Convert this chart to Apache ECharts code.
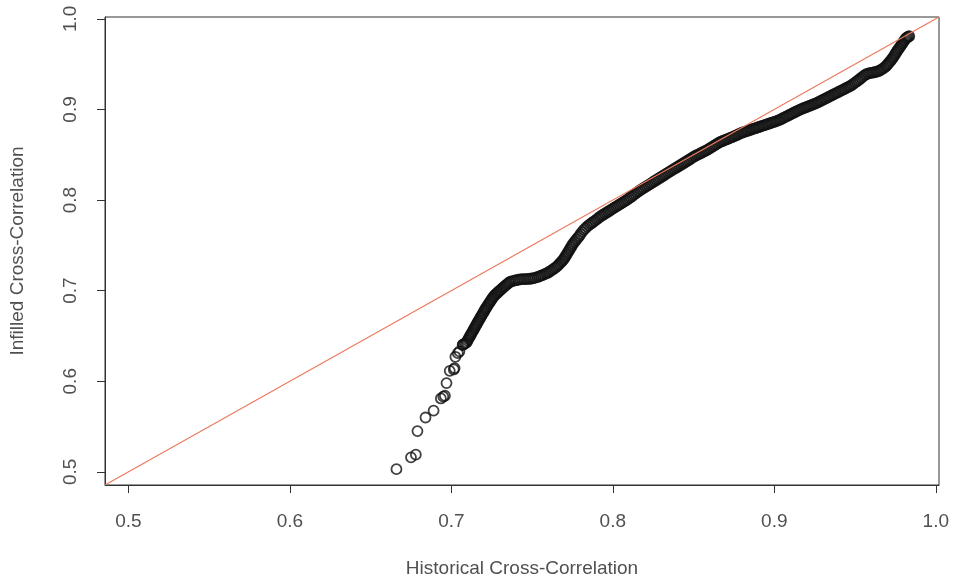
<!DOCTYPE html>
<html>
<head>
<meta charset="utf-8">
<script src="https://cdn.jsdelivr.net/npm/echarts@6/dist/echarts.min.js"></script>
<style>
  html, body { margin: 0; padding: 0; background: #ffffff; }
  #chart { width: 955px; height: 583px; }
</style>
</head>
<body>
<div id="chart"></div>
<script>
// Axis extent shared by both axes (plot drawn on equal scales)
const axisMin = 0.4855;
const axisMax = 1.002;
const tickValues = [0.5, 0.6, 0.7, 0.8, 0.9, 1.0];

// Sorted quantiles: historical (x) against infilled (y) cross-correlation
const historical = [
  // lower tail
  0.666, 0.675, 0.678, 0.679, 0.684, 0.689, 0.6935, 0.695, 0.696, 0.697,
  0.699, 0.7015, 0.702, 0.7025, 0.704, 0.705, 0.707,
  // steep rise
  0.7072, 0.7080, 0.7088, 0.7095, 0.7100, 0.7105, 0.7110, 0.7115, 0.7120, 0.7125,
  0.7130, 0.7136, 0.7141, 0.7146, 0.7151, 0.7156, 0.7161, 0.7166, 0.7171, 0.7177,
  0.7182, 0.7187, 0.7193, 0.7198, 0.7203, 0.7208, 0.7214, 0.7219, 0.7225, 0.7231,
  0.7237, 0.7243, 0.7249, 0.7255, 0.7260, 0.7266, 0.7273, 0.7280, 0.7287, 0.7294,
  0.7302, 0.7310, 0.7318, 0.7326, 0.7334, 0.7342, 0.7350, 0.7358, 0.7366,
  // shoulder
  0.7378, 0.7390, 0.7402, 0.7414, 0.7426, 0.7438, 0.7450, 0.7462, 0.7474, 0.7486,
  0.7498, 0.7510, 0.7522,
  0.7535, 0.7545, 0.7555, 0.7565, 0.7575, 0.7585, 0.7595, 0.7605, 0.7615, 0.7625,
  0.7635, 0.7645, 0.7654, 0.7662, 0.7670, 0.7678, 0.7686, 0.7693, 0.7699, 0.7705,
  0.7711, 0.7717, 0.7723, 0.7729, 0.7735, 0.7741, 0.7747, 0.7753, 0.7761, 0.7769,
  0.7777, 0.7785, 0.7793,
  // central body
  0.780, 0.781, 0.782, 0.783, 0.784, 0.785, 0.786, 0.787, 0.788, 0.789,
  0.790, 0.791, 0.792, 0.793, 0.794, 0.795, 0.796, 0.797, 0.798, 0.799,
  0.800, 0.801, 0.802, 0.803, 0.804, 0.805, 0.806, 0.807, 0.808, 0.809,
  0.810, 0.811, 0.812, 0.813, 0.814, 0.815, 0.816, 0.817, 0.818, 0.819,
  0.820, 0.821, 0.822, 0.823, 0.824, 0.825, 0.826, 0.827, 0.828, 0.829,
  0.830, 0.831, 0.832, 0.833, 0.834, 0.835, 0.836, 0.837, 0.838, 0.839,
  0.840, 0.841, 0.842, 0.843, 0.844, 0.845, 0.846, 0.847, 0.848, 0.849,
  0.850, 0.851, 0.852, 0.853, 0.854, 0.855, 0.856, 0.857, 0.858, 0.859,
  0.860, 0.861, 0.862, 0.863, 0.864, 0.865, 0.866,
  0.867, 0.868, 0.869, 0.870, 0.871, 0.872, 0.873, 0.874, 0.875, 0.876,
  0.877, 0.878, 0.879, 0.880, 0.881, 0.882, 0.883, 0.884, 0.885, 0.886,
  0.887, 0.888, 0.889, 0.890, 0.891, 0.892, 0.893, 0.894, 0.895, 0.896,
  0.897, 0.898, 0.899, 0.900, 0.901, 0.902, 0.903, 0.904, 0.905, 0.906,
  0.907, 0.908, 0.909, 0.910, 0.911, 0.912, 0.913, 0.914, 0.915, 0.916,
  0.917, 0.918, 0.919, 0.920, 0.921, 0.922, 0.923, 0.924, 0.925, 0.926,
  0.927, 0.928, 0.929, 0.930, 0.931, 0.932, 0.933, 0.934, 0.935, 0.936,
  0.937, 0.938, 0.939, 0.940, 0.941, 0.942, 0.943, 0.944, 0.945, 0.946,
  0.947, 0.948, 0.949, 0.950, 0.951, 0.952, 0.953, 0.954, 0.955, 0.956,
  // upper tail
  0.957, 0.958, 0.959, 0.960, 0.961, 0.962, 0.963, 0.964, 0.965, 0.966,
  0.967, 0.968, 0.969, 0.9697, 0.9704, 0.9711, 0.9718, 0.9725, 0.9732, 0.9738,
  0.9744, 0.9750, 0.9756, 0.9762, 0.9768, 0.9775, 0.9781, 0.9787, 0.9793, 0.9799,
  0.9805, 0.9811, 0.9817, 0.9823, 0.9830, 0.9836
];
const infilled = [
  // lower tail
  0.503, 0.516, 0.519, 0.545, 0.560, 0.5675, 0.581, 0.583, 0.584, 0.598,
  0.6115, 0.613, 0.6145, 0.627, 0.631, 0.633, 0.640,
  // steep rise
  0.6405, 0.6412, 0.6420, 0.6430, 0.6448, 0.6465, 0.6481, 0.6497, 0.6513, 0.6529,
  0.6545, 0.6563, 0.6579, 0.6595, 0.6611, 0.6627, 0.6643, 0.6659, 0.6675, 0.6693,
  0.6709, 0.6725, 0.6741, 0.6757, 0.6773, 0.6789, 0.6806, 0.6821, 0.6838, 0.6854,
  0.6870, 0.6886, 0.6902, 0.6918, 0.6932, 0.6944, 0.6956, 0.6968, 0.6980, 0.6992,
  0.7004, 0.7016, 0.7030, 0.7042, 0.7054, 0.7066, 0.7078, 0.7090, 0.7099,
  // shoulder
  0.7106, 0.7111, 0.7116, 0.7120, 0.7124, 0.7126, 0.7127, 0.7128, 0.7129, 0.7131,
  0.7134, 0.7138, 0.7143,
  0.7151, 0.7158, 0.7165, 0.7172, 0.7180, 0.7187, 0.7195, 0.7206, 0.7218, 0.7230,
  0.7242, 0.7254, 0.7267, 0.7282, 0.7297, 0.7312, 0.7327, 0.7340, 0.7357, 0.7374,
  0.7391, 0.7408, 0.7426, 0.7444, 0.7462, 0.7480, 0.7498, 0.7516, 0.7534, 0.7552,
  0.7570, 0.7588, 0.7605,
  // central body
  0.7625, 0.7648, 0.7670, 0.7688, 0.7706, 0.7720, 0.7734, 0.7747, 0.7760, 0.7773,
  0.7787, 0.7801, 0.7815, 0.7827, 0.7838, 0.7849, 0.7860, 0.7871, 0.7882, 0.7894,
  0.7905, 0.7916, 0.7927, 0.7938, 0.7949, 0.7960, 0.7971, 0.7982, 0.7993, 0.8005,
  0.8018, 0.8031, 0.8044, 0.8058, 0.8071, 0.8084, 0.8097, 0.8110, 0.8121, 0.8132,
  0.8143, 0.8154, 0.8165, 0.8176, 0.8187, 0.8199, 0.8210, 0.8221, 0.8232, 0.8243,
  0.8254, 0.8265, 0.8276, 0.8288, 0.8299, 0.8310, 0.8321, 0.8332, 0.8343, 0.8354,
  0.8365, 0.8376, 0.8387, 0.8398, 0.8409, 0.8420, 0.8431, 0.8442, 0.8453, 0.8465,
  0.8476, 0.8486, 0.8495, 0.8504, 0.8513, 0.8522, 0.8531, 0.8540, 0.8549, 0.8559,
  0.8570, 0.8581, 0.8592, 0.8603, 0.8614, 0.8625, 0.8636,
  0.8645, 0.8652, 0.8659, 0.8666, 0.8673, 0.8680, 0.8688, 0.8695, 0.8703, 0.8710,
  0.8718, 0.8727, 0.8736, 0.8743, 0.8749, 0.8755, 0.8761, 0.8767, 0.8773, 0.8779,
  0.8785, 0.8791, 0.8797, 0.8803, 0.8809, 0.8815, 0.8821, 0.8827, 0.8833, 0.8839,
  0.8845, 0.8851, 0.8857, 0.8863, 0.8869, 0.8876, 0.8882, 0.8891, 0.8900, 0.8909,
  0.8918, 0.8927, 0.8936, 0.8945, 0.8954, 0.8963, 0.8972, 0.8981, 0.8990, 0.8998,
  0.9006, 0.9013, 0.9020, 0.9027, 0.9034, 0.9041, 0.9048, 0.9055, 0.9062, 0.9069,
  0.9078, 0.9087, 0.9096, 0.9105, 0.9114, 0.9123, 0.9132, 0.9141, 0.9150, 0.9159,
  0.9168, 0.9177, 0.9186, 0.9195, 0.9204, 0.9213, 0.9222, 0.9231, 0.9240, 0.9249,
  0.9258, 0.9270, 0.9282, 0.9295, 0.9308, 0.9322, 0.9336, 0.9350, 0.9364, 0.9378,
  // upper tail
  0.9388, 0.9395, 0.9400, 0.9404, 0.9407, 0.9410, 0.9414, 0.9419, 0.9427, 0.9437,
  0.9448, 0.9460, 0.9474, 0.9488, 0.9503, 0.9518, 0.9533, 0.9548, 0.9563, 0.9580,
  0.9597, 0.9614, 0.9631, 0.9648, 0.9665, 0.9680, 0.9696, 0.9712, 0.9728, 0.9744,
  0.9760, 0.9774, 0.9786, 0.9796, 0.9803, 0.9808
];

// Reference line y = x across the whole plotting region
const identityLine = [[axisMin, axisMin], [axisMax, axisMax]];

const points = historical.map((x, i) => [x, infilled[i]]);

const textColor = '#505050';
const frameColor = '#333333';
const fontFamily = '"Liberation Sans", Arial, sans-serif';

const chart = echarts.init(document.getElementById('chart'), null, { renderer: 'canvas' });

chart.setOption({
  animation: false,
  backgroundColor: '#ffffff',
  grid: {
    left: 105, right: 16, top: 17, bottom: 98,
    show: true, borderColor: frameColor, borderWidth: 1, backgroundColor: 'transparent'
  },
  xAxis: {
    type: 'value',
    min: axisMin,
    max: axisMax,
    name: 'Historical Cross-Correlation',
    nameLocation: 'middle',
    nameGap: 74,
    nameTextStyle: { fontFamily, fontSize: 19, color: textColor },
    axisLine: { show: true, lineStyle: { color: frameColor, width: 1 } },
    axisTick: {
      show: true, inside: false, length: 8, customValues: tickValues,
      lineStyle: { color: frameColor, width: 1 }
    },
    axisLabel: {
      customValues: tickValues, margin: 27, fontFamily, fontSize: 19, color: textColor,
      formatter: v => v.toFixed(1)
    },
    splitLine: { show: false }
  },
  yAxis: {
    type: 'value',
    min: axisMin,
    max: axisMax,
    name: 'Infilled Cross-Correlation',
    nameLocation: 'middle',
    nameGap: 78,
    nameRotate: 90,
    nameTextStyle: { fontFamily, fontSize: 19, color: textColor },
    axisLine: { show: true, lineStyle: { color: frameColor, width: 1 } },
    axisTick: {
      show: true, inside: false, length: 8, customValues: tickValues,
      lineStyle: { color: frameColor, width: 1 }
    },
    axisLabel: {
      customValues: tickValues, margin: 25, rotate: 90, fontFamily, fontSize: 19, color: textColor,
      formatter: v => v.toFixed(1)
    },
    splitLine: { show: false }
  },
  series: [
    {
      type: 'line',
      data: identityLine,
      symbol: 'none',
      lineStyle: { color: '#ec7a5f', width: 1.2 },
      z: 3,
      silent: true
    },
    {
      type: 'scatter',
      data: points,
      symbol: 'circle',
      symbolSize: 10,
      itemStyle: { color: 'rgba(0,0,0,0)', borderColor: '#111111', borderWidth: 1.8 },
      z: 2,
      silent: true
    }
  ]
});
</script>
</body>
</html>
